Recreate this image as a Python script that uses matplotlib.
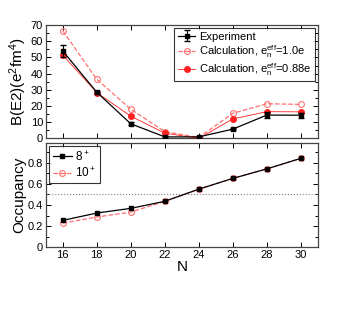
import numpy as np
import matplotlib
matplotlib.use('Agg')
import matplotlib.pyplot as plt
from matplotlib.ticker import MultipleLocator

plt.rcParams['font.family'] = ['Liberation Sans', 'DejaVu Sans']
plt.rcParams['mathtext.fontset'] = 'custom'
plt.rcParams['mathtext.rm'] = 'Liberation Sans'
plt.rcParams['mathtext.it'] = 'Liberation Sans'

N = [16, 18, 20, 22, 24, 26, 28, 30]

# B(E2) panel
be2_exp = [54.0, 28.5, 9.0, 0.9, 0.9, 5.7, 14.4, 14.3]
be2_exp_err = [4.0, 1.0, 1.0, 0.5, 0.5, 0.7, 1.6, 1.6]
be2_calc_10 = [66.5, 36.5, 18.0, 4.2, 0.5, 15.5, 21.4, 21.0]
be2_calc_088 = [51.5, 28.3, 13.7, 3.2, 0.0, 12.0, 16.5, 16.4]

# occupancy panel
occ_8 = [0.254, 0.324, 0.368, 0.435, 0.550, 0.652, 0.742, 0.842]
occ_10 = [0.229, 0.286, 0.333, 0.435, 0.550, 0.652, 0.742, 0.842]

red = '#ff2020'
pink = '#ff7070'

fig = plt.figure(figsize=(3.52, 3.35), dpi=100)
ax1 = fig.add_axes([0.130, 0.587, 0.773, 0.338])
ax2 = fig.add_axes([0.130, 0.262, 0.773, 0.312])

h_exp = ax1.errorbar(N, be2_exp, yerr=be2_exp_err, color='black', marker='s', ms=3.2,
                     lw=0.9, capsize=2.5, elinewidth=0.8, zorder=4)
h10, = ax1.plot(N, be2_calc_10, color=pink, ls='--', lw=0.9, marker='o', ms=4.2,
                mfc='none', mew=0.8, zorder=3)
h088, = ax1.plot(N, be2_calc_088, color=red, ls='-', lw=0.6, marker='o', ms=4.0,
                 zorder=3)

ax1.set_xlim(15, 31)
ax1.set_ylim(0, 70)
ax1.set_ylabel(r'B(E2)(e$^2$fm$^4$)', fontsize=11, labelpad=1)
ax1.yaxis.set_major_locator(MultipleLocator(10))
ax1.yaxis.set_minor_locator(MultipleLocator(5))
ax1.set_xticks(N)
ax1.tick_params(labelbottom=False)
leg = ax1.legend([h_exp, h10, h088],
                 ['Experiment', r'Calculation, e$_n^{eff}$=1.0e',
                  r'Calculation, e$_n^{eff}$=0.88e'],
                 loc='upper right', fontsize=8, handlelength=1.6,
                 handletextpad=0.3, borderpad=0.3, labelspacing=0.1,
                 frameon=True, fancybox=False, edgecolor='black',
                 borderaxespad=0.3)
leg.get_frame().set_linewidth(0.8)

ax2.axhline(0.5, color='gray', ls=':', lw=0.8)
ax2.plot(N, occ_8, color='black', marker='s', ms=3.2, lw=0.9, label='8$^+$', zorder=4)
ax2.plot(N, occ_10, color=pink, ls='--', lw=0.9, marker='o', ms=4.2,
         mfc='none', mew=0.8, label='10$^+$', zorder=3)
ax2.set_xlim(15, 31)
ax2.set_ylim(0, 0.99)
ax2.set_xticks(N)
ax2.set_yticks([0, 0.2, 0.4, 0.6, 0.8])
ax2.set_yticklabels(['0', '0.2', '0.4', '0.6', '0.8'])
ax2.yaxis.set_minor_locator(MultipleLocator(0.1))
ax2.set_ylabel('Occupancy', fontsize=11, labelpad=1)
ax2.set_xlabel('N', fontsize=11, labelpad=0)
leg2 = ax2.legend(loc='upper left', fontsize=8.5, handlelength=1.6,
                  handletextpad=0.3, borderpad=0.3, labelspacing=0.2,
                  frameon=True, fancybox=False, edgecolor='black',
                  borderaxespad=0.3)
leg2.get_frame().set_linewidth(0.8)

for ax in (ax1, ax2):
    ax.tick_params(which='both', direction='in', top=True, right=True,
                   labelsize=8, width=0.7, pad=2)
    ax.tick_params(which='major', length=3.5)
    ax.tick_params(which='minor', length=2)
    for s in ax.spines.values():
        s.set_linewidth(0.9)
        s.set_color('#444444')

fig.savefig('out.png', dpi=100)
